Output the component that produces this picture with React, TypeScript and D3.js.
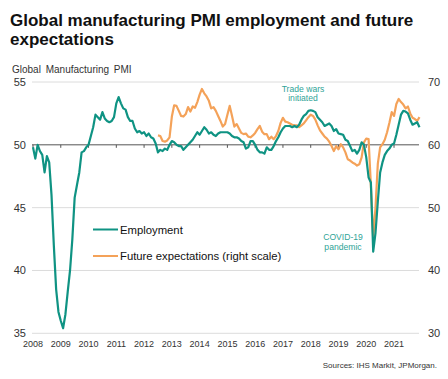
import React from "react";
import * as d3 from "d3";

// Monthly series starting January 2008
const employment: number[] = [
  // 2008
  49.8, 48.9, 50.0, 49.5, 49.2, 47.8, 49.1, 48.6, 46.0, 42.0, 38.5, 36.7,
  // 2009
  36.0, 35.4, 36.5, 38.3, 40.0, 42.5, 45.8, 46.8, 47.8, 49.4, 49.5, 49.8,
  // 2010
  50.0, 50.7, 51.4, 52.4, 52.2, 52.0, 52.6, 52.1, 51.9, 51.8, 51.9, 52.2,
  // 2011
  53.3, 53.8, 53.3, 52.9, 52.8, 52.2, 51.9, 51.9, 51.3, 51.0, 51.1, 50.9,
  // 2012
  51.0, 50.7, 50.9, 50.6, 50.5, 50.1, 49.4, 49.6, 49.5, 49.7, 49.6, 50.0,
  // 2013
  50.3, 50.2, 50.0, 49.9, 49.9, 49.6, 49.8, 50.0, 50.2, 50.4, 50.7, 51.0,
  // 2014
  50.8, 51.1, 51.4, 51.2, 50.9, 51.0, 50.8, 50.7, 50.9, 51.0, 51.0, 51.0,
  // 2015
  51.0, 50.9, 50.7, 50.6, 50.6, 50.5, 50.3, 50.2, 49.7, 49.8, 50.3, 50.3,
  // 2016
  50.0, 49.6, 49.4, 49.4, 49.3, 49.8, 49.6, 49.6, 49.9, 50.3, 50.6, 51.0,
  // 2017
  51.3, 51.5, 51.5, 51.5, 51.4, 51.5, 51.4, 51.6, 52.0, 52.3, 52.45, 52.7,
  // 2018
  52.75, 52.7, 52.6, 52.2, 52.0, 51.8, 51.5, 51.6, 51.7, 51.5, 51.1, 51.25,
  // 2019
  50.9, 50.85, 50.8, 50.4, 50.3, 49.9, 49.5, 49.6, 49.3, 49.6, 50.2, 50.0,
  // 2020
  49.0, 47.4, 47.0, 41.5, 43.0, 45.5, 47.8, 48.6, 49.2, 49.5, 49.7, 50.0,
  // 2021
  50.1, 50.8, 51.6, 52.4, 52.7, 52.65, 52.5, 52.0, 51.6, 51.7, 51.8, 51.4,
];

// Future expectations, starting July 2012 (month index 54 from Jan 2008)
const futureStartMonth = 54;
const futureExpectations: number[] = [
  // 2012 (Jul-Dec)
  61.5, 61.4, 60.6, 60.5, 60.7, 61.2,
  // 2013
  64.5, 66.3, 66.2, 65.4, 64.6, 64.5, 64.9, 66.0, 65.3, 66.1, 65.9, 66.8,
  // 2014
  68.0, 68.9, 68.2, 67.7, 67.0, 65.8, 66.0, 65.4, 64.6, 63.8, 62.9, 63.3,
  // 2015
  64.8, 66.2, 64.6, 62.9, 63.3, 62.6, 61.9, 61.7, 61.8, 61.3, 61.2, 61.5,
  // 2016
  61.9, 62.5, 63.0, 62.1, 61.7, 61.7, 60.9, 61.3, 60.9, 61.4, 62.2, 63.5,
  // 2017
  64.3, 63.7, 63.6, 63.4, 63.2, 63.1, 63.1, 62.8, 63.1, 63.4, 63.9, 64.4,
  // 2018
  64.8, 64.6, 64.0, 63.1, 62.3, 61.8, 61.3, 61.0, 60.5, 59.8, 59.0, 59.8,
  // 2019
  59.3, 60.1, 59.6, 58.8, 57.7, 57.5, 57.2, 57.0, 56.7, 56.9, 58.0, 60.4,
  // 2020
  61.0, 60.9, 53.5, 45.1, 50.0, 57.0, 59.6, 60.1, 60.8, 62.0, 63.5, 65.2,
  // 2021
  64.6, 66.5, 67.3, 66.8, 66.4, 65.8, 66.1, 65.0, 64.3, 64.1, 63.8, 64.4,
];

const yearLabels = [2008, 2009, 2010, 2011, 2012, 2013, 2014, 2015, 2016, 2017, 2018, 2019, 2020, 2021];
const leftTicks = [35, 40, 45, 50, 55];
const rightTicks = [30, 40, 50, 60, 70];

const TEAL = "#0f9383";
const ORANGE = "#f4a259";
const ANNOT = "#2fa497";
const FONT = "'Liberation Sans', Arial, Helvetica, sans-serif";

export default function App() {
  const W = 448;
  const H = 379;
  const plotLeft = 32;
  const plotRight = 419;

  const x = d3.scaleLinear().domain([2008, 2022]).range([33, 421.8]);
  const yL = d3.scaleLinear().domain([35, 55]).range([333.3, 82]);
  const yR = d3.scaleLinear().domain([30, 70]).range([333.3, 82]);

  const monthX = (m: number) => x(2008 + m / 12);

  const empLine = d3
    .line<number>()
    .x((_, i) => monthX(i))
    .y((d) => yL(d))
    .curve(d3.curveLinear)(employment) as string;

  const futLine = d3
    .line<number>()
    .x((_, i) => monthX(i + futureStartMonth))
    .y((d) => yR(d))
    .curve(d3.curveLinear)(futureExpectations) as string;

  return (
    <svg
      width={W}
      height={H}
      viewBox={`0 0 ${W} ${H}`}
      style={{ position: "absolute", left: 0, top: 0, background: "#fff" }}
      fontFamily={FONT}
    >
      <rect x={0} y={0} width={W} height={H} fill="#fff" />
      {/* Title */}
      <text x={10} y={26} fontSize={17} fontWeight="bold" fill="#111">
        Global manufacturing PMI employment and future
      </text>
      <text x={10} y={45} fontSize={17} fontWeight="bold" fill="#111">
        expectations
      </text>
      <text x={12} y={72.5} fontSize={10} fill="#333" wordSpacing={2}>
        Global Manufacturing PMI
      </text>

      {/* Gridlines */}
      {leftTicks
        .filter((t) => t !== 50)
        .map((t) => (
          <line key={t} x1={plotLeft} x2={plotRight} y1={yL(t)} y2={yL(t)} stroke="#dcdcdc" strokeWidth={1} />
        ))}
      <line x1={plotLeft} x2={plotRight} y1={yL(50)} y2={yL(50)} stroke="#555" strokeWidth={1} />
      {yearLabels.map((yr) => (
        <line key={yr} x1={x(yr)} x2={x(yr)} y1={yL(50)} y2={yL(50) + 3} stroke="#555" strokeWidth={1} />
      ))}

      {/* Left axis labels */}
      {leftTicks.map((t) => (
        <text key={t} x={26} y={yL(t) + 4} fontSize={11} fill="#333" textAnchor="end">
          {t}
        </text>
      ))}
      {/* Right axis labels */}
      {rightTicks.map((t) => (
        <text key={t} x={428} y={yR(t) + 4} fontSize={11} fill="#333" textAnchor="start">
          {t}
        </text>
      ))}
      {/* X axis labels */}
      {yearLabels.map((yr) => (
        <text key={yr} x={x(yr)} y={347} fontSize={9} fill="#333" textAnchor="middle">
          {yr}
        </text>
      ))}

      {/* Series */}
      <path d={futLine} fill="none" stroke={ORANGE} strokeWidth={2.2} strokeLinejoin="round" />
      <path d={empLine} fill="none" stroke={TEAL} strokeWidth={2.2} strokeLinejoin="round" />

      {/* Legend */}
      <line x1={93} x2={118} y1={229.5} y2={229.5} stroke={TEAL} strokeWidth={2} />
      <text x={120} y={233.5} fontSize={11.3} fill="#111">
        Employment
      </text>
      <line x1={93} x2={118} y1={256} y2={256} stroke={ORANGE} strokeWidth={2} />
      <text x={120} y={260} fontSize={11.3} fill="#111">
        Future expectations (right scale)
      </text>

      {/* Annotations */}
      <text x={303} y={91.5} fontSize={8.6} fill={ANNOT} textAnchor="middle">
        Trade wars
      </text>
      <text x={303} y={100.5} fontSize={8.6} fill={ANNOT} textAnchor="middle">
        initiated
      </text>
      <text x={343} y={240} fontSize={8.6} fill={ANNOT} textAnchor="middle">
        COVID-19
      </text>
      <text x={343} y={249.5} fontSize={8.6} fill={ANNOT} textAnchor="middle">
        pandemic
      </text>

      {/* Source */}
      <text x={437} y={368} fontSize={8} fill="#333" textAnchor="end">
        Sources: IHS Markit, JPMorgan.
      </text>
    </svg>
  );
}
